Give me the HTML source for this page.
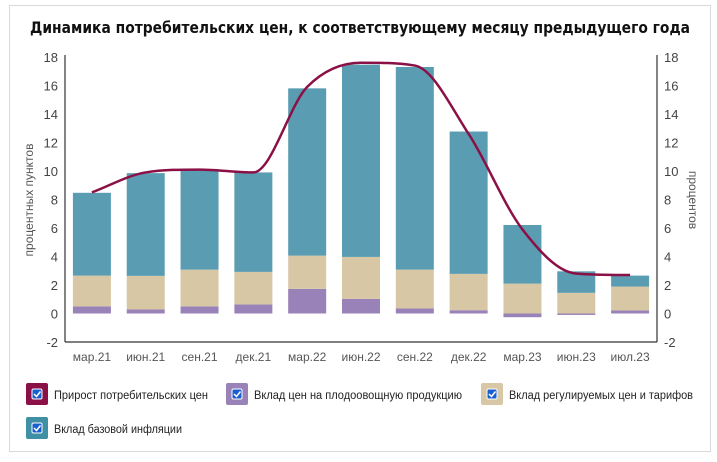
<!DOCTYPE html>
<html><head><meta charset="utf-8"><style>
body{margin:0;width:717px;height:457px;background:#fff;font-family:"Liberation Sans","DejaVu Sans",sans-serif;overflow:hidden}
</style></head><body>
<svg width="717" height="457" xmlns="http://www.w3.org/2000/svg">
<rect x="9.5" y="5.5" width="701" height="446" fill="#fff" stroke="#d9d9d9"/>
<text x="30" y="33" textLength="660" lengthAdjust="spacingAndGlyphs" font-size="16" font-weight="bold" fill="#111" font-family="'DejaVu Sans',sans-serif">Динамика потребительских цен, к соответствующему месяцу предыдущего года</text>
<g id="plot"></g>
<g id="legend"></g>
</svg>
<script>
const categories=["мар.21","июн.21","сен.21","дек.21","мар.22","июн.22","сен.22","дек.22","мар.23","июн.23","июл.23"];
const fruitVeg=[0.5,0.28,0.5,0.63,1.73,1.03,0.35,0.23,-0.26,-0.1,0.21];
const regulated=[2.16,2.36,2.58,2.29,2.33,2.94,2.73,2.55,2.1,1.45,1.68];
const core=[5.81,7.21,6.95,6.98,11.74,13.49,14.22,9.99,4.11,1.51,0.77];
const cpi=[8.5,9.9,10.1,9.9,15.9,17.6,17.4,12.6,5.9,2.8,2.7];
const yTicks=[-2,0,2,4,6,8,10,12,14,16,18];
const legendLabels=["Прирост потребительских цен","Вклад цен на плодоовощную продукцию","Вклад регулируемых цен и тарифов","Вклад базовой инфляции"];

const NS="http://www.w3.org/2000/svg";
const X0=65,X1=657,Y0=342,Y1=57,YMIN=-2,YMAX=18;
const y=v=>Y0-(v-YMIN)/(YMAX-YMIN)*(Y0-Y1);
const step=(X1-X0)/categories.length;
const x=i=>X0+step*(i+0.5);
const bw=38;
const plot=document.getElementById('plot');
function mk(tag,attrs,parent){const e=document.createElementNS(NS,tag);for(const k in attrs)e.setAttribute(k,attrs[k]);(parent||plot).appendChild(e);return e;}

yTicks.forEach(t=>{
  const a=mk('text',{x:58,y:y(t)+5,'text-anchor':'end','font-size':13,fill:'#444'});a.textContent=t;
  
  
  const b=mk('text',{x:664,y:y(t)+5,'text-anchor':'start','font-size':13,fill:'#444'});b.textContent=t;
  
  
});
const colors={fv:"#9882b8",reg:"#d7c7a5",core:"#5a9db2",cpi:"#8b1045"};
categories.forEach((c,i)=>{
  const cx=x(i)-bw/2;
  let r;
  if(fruitVeg[i]>=0){
    r=mk('rect',{x:cx,y:y(fruitVeg[i]),width:bw,height:y(0)-y(fruitVeg[i]),fill:colors.fv});
  } else {
    r=mk('rect',{x:cx,y:y(0),width:bw,height:y(fruitVeg[i])-y(0),fill:colors.fv});
  }
  
  
  const base=Math.max(0,fruitVeg[i]);
  const r2=mk('rect',{x:cx,y:y(base+regulated[i]),width:bw,height:y(base)-y(base+regulated[i]),fill:colors.reg});
  
  
  const b2=base+regulated[i];
  const r3=mk('rect',{x:cx,y:y(b2+core[i]),width:bw,height:y(b2)-y(b2+core[i]),fill:colors.core});
  
  
  const t=mk('text',{x:x(i),y:361,'text-anchor':'middle','font-size':12,fill:'#555'});t.textContent=c;
  
  
});
const la=mk('line',{x1:X0,y1:55,x2:X0,y2:Y0,stroke:'#333','stroke-width':1.2});

const ra=mk('line',{x1:X1,y1:55,x2:X1,y2:Y0,stroke:'#333','stroke-width':1.2});

const xa=mk('line',{x1:X0,y1:Y0,x2:X1,y2:Y0,stroke:'#333','stroke-width':1.2});

// monotone cubic line
const pts=cpi.map((v,i)=>[x(i),y(v)]);
const n=pts.length;
const dl=[],m=[];
for(let i=0;i<n-1;i++)dl.push((pts[i+1][1]-pts[i][1])/(pts[i+1][0]-pts[i][0]));
m[0]=dl[0];m[n-1]=dl[n-2];
for(let i=1;i<n-1;i++){m[i]=(dl[i-1]*dl[i]<=0)?0:(dl[i-1]+dl[i])/2;}
for(let i=0;i<n-1;i++){
  if(dl[i]===0){m[i]=0;m[i+1]=0;continue;}
  const a=m[i]/dl[i],b=m[i+1]/dl[i],s=a*a+b*b;
  if(s>9){const t=3/Math.sqrt(s);m[i]=t*a*dl[i];m[i+1]=t*b*dl[i];}
}
let d='M'+pts[0][0]+','+pts[0][1];
for(let i=0;i<n-1;i++){
  const h=(pts[i+1][0]-pts[i][0])/3;
  d+=` C${pts[i][0]+h},${pts[i][1]+m[i]*h} ${pts[i+1][0]-h},${pts[i+1][1]-m[i+1]*h} ${pts[i+1][0]},${pts[i+1][1]}`;
}
const ln=mk('path',{d:d,fill:'none',stroke:colors.cpi,'stroke-width':2.5});


const lt=mk('text',{x:0,y:0,transform:'translate(33,200) rotate(-90)','text-anchor':'middle','font-size':12,fill:'#555'});
lt.textContent='процентных пунктов';
const rt=mk('text',{x:0,y:0,transform:'translate(689,200) rotate(90)','text-anchor':'middle','font-size':12,fill:'#555'});
rt.textContent='процентов';
const lg=document.getElementById('legend');
const lcol=[colors.cpi,colors.fv,colors.reg,"#3f8fa5"];
const lpos=[[26,383],[226,383],[481,383],[26,417]];
const lwid=[154,208,184,128];
legendLabels.forEach((l,i)=>{
  const g=mk('g',{},lg);
  
  
  const [lx,ly]=lpos[i];
  mk('rect',{x:lx,y:ly,width:22,height:22,rx:2,fill:lcol[i]},g);
  mk('rect',{x:lx+6,y:ly+6,width:10,height:10,rx:1.5,fill:'#1a5fd0',stroke:'#fff','stroke-width':1},g);
  mk('path',{d:`M${lx+8} ${ly+11} l2.5 2.5 l4 -5`,stroke:'#fff','stroke-width':1.5,fill:'none'},g);
  const t=mk('text',{x:lx+28,y:ly+16,'font-size':11.5,fill:'#222',textLength:lwid[i],lengthAdjust:'spacingAndGlyphs'},g);t.textContent=l;
});
</script>
</body></html>
